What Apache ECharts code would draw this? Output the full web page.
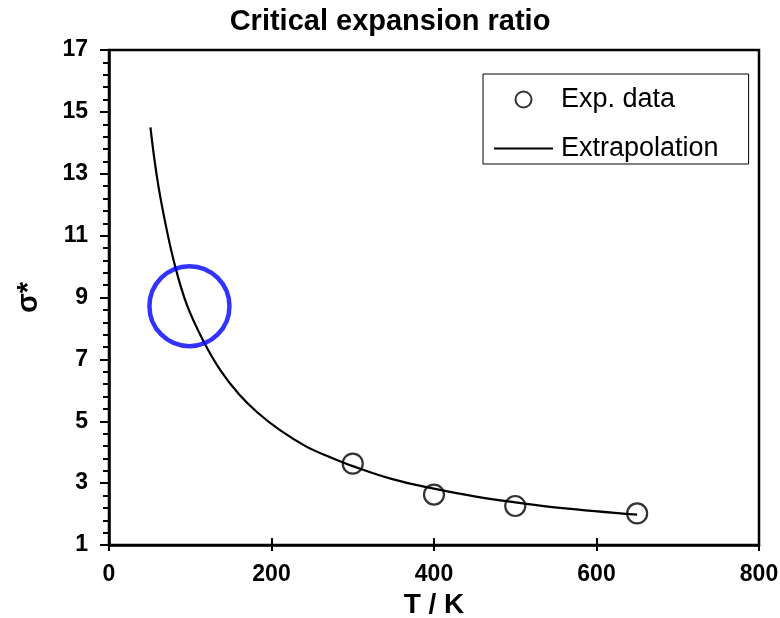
<!DOCTYPE html>
<html>
<head>
<meta charset="utf-8">
<script src="https://cdn.jsdelivr.net/npm/echarts@6/dist/echarts.min.js"></script>
<style>html,body{margin:0;padding:0;background:#fff}#c{width:780px;height:618px}</style>
</head>
<body>
<div id="c"></div>
<script>
var titleText = 'Critical expansion ratio';
var xName = 'T / K';
var yName = 'σ*';
var xTicks = [0, 200, 400, 600, 800];
var yTicks = [1, 3, 5, 7, 9, 11, 13, 15, 17];
var expT = [300, 400, 500, 650];
var expSigma = [3.63, 2.63, 2.26, 2.02];
var fitT = [51, 59, 69, 81, 96, 116, 137, 160, 182, 210, 243, 272, 300, 350, 400, 450, 500, 555, 650];
var fitSigma = [14.5, 12.9, 11.45, 10.05, 8.75, 7.6, 6.65, 5.87, 5.3, 4.72, 4.18, 3.84, 3.55, 3.12, 2.82, 2.57, 2.38, 2.2, 1.98];
var highlightT = [99];
var highlightSigma = [8.72];

function zip(a, b) { return a.map(function (v, i) { return [v, b[i]]; }); }

var FONT = '"Liberation Sans", Arial, sans-serif';
var chart = echarts.init(document.getElementById('c'), null, {renderer: 'canvas'});
chart.setOption({
  animation: false,
  backgroundColor: '#fff',
  title: {
    text: titleText, left: 'center', top: 2,
    textStyle: {fontFamily: FONT, fontWeight: 'bold', fontSize: 29, color: '#000'}
  },
  grid: {left: 109, right: 21, top: 50, bottom: 73, containLabel: false, outerBoundsMode: 'none',
    show: true, borderColor: '#000', borderWidth: 2.5, backgroundColor: 'transparent'},
  legend: {
    orient: 'vertical', left: 483, top: 74,
    data: [
      {name: 'Exp. data'},
      {name: 'Extrapolation', icon: 'path://M0,0 L60,0 L60,2 L0,2 Z'}
    ],
    itemWidth: 59, itemHeight: 16, itemGap: 22,
    padding: [12, 30, 2, 11],
    borderColor: '#000', borderWidth: 1,
    textStyle: {fontFamily: FONT, fontSize: 27, color: '#000', padding: [0, 0, 0, 3]},
    selectedMode: false
  },
  xAxis: [{
    type: 'value', min: xTicks[0], max: xTicks[xTicks.length - 1], interval: 200,
    name: xName, nameLocation: 'middle', nameGap: 41,
    nameTextStyle: {fontFamily: FONT, fontWeight: 'bold', fontSize: 28, color: '#000'},
    axisLine: {show: true, onZero: false, lineStyle: {color: '#000', width: 2.5}},
    axisTick: {show: true, inside: false, length: 6, lineStyle: {color: '#000', width: 2}},
    axisLabel: {margin: 18, fontFamily: FONT, fontWeight: 'bold', fontSize: 23, color: '#000'},
    splitLine: {show: false}
  }, {
    type: 'value', position: 'bottom', min: xTicks[0], max: xTicks[xTicks.length - 1], interval: 200,
    axisLine: {show: false},
    axisTick: {show: true, inside: true, length: 7, lineStyle: {color: '#000', width: 2}},
    axisLabel: {show: false},
    splitLine: {show: false}
  }],
  yAxis: {
    type: 'value', min: yTicks[0], max: yTicks[yTicks.length - 1], interval: 2,
    name: yName, nameLocation: 'middle', nameGap: 66, nameRotate: 90,
    nameTextStyle: {fontFamily: FONT, fontWeight: 'bold', fontSize: 29, color: '#000'},
    axisLine: {show: true, onZero: false, lineStyle: {color: '#000', width: 2.5}},
    axisTick: {show: true, inside: false, length: 9, lineStyle: {color: '#000', width: 2}},
    minorTick: {show: true, splitNumber: 5, length: 6, lineStyle: {color: '#000', width: 2}},
    axisLabel: {margin: 21, fontFamily: FONT, fontWeight: 'bold', fontSize: 23, color: '#000'},
    splitLine: {show: false}, minorSplitLine: {show: false}
  },
  series: [{
    name: 'Extrapolation', type: 'line', data: zip(fitT, fitSigma),
    smooth: 0.4, showSymbol: false, symbol: 'none',
    lineStyle: {color: '#000', width: 2.2}, itemStyle: {color: '#000'}, z: 2
  }, {
    name: 'Exp. data', type: 'scatter', data: zip(expT, expSigma),
    symbol: 'circle', symbolSize: 20,
    itemStyle: {color: 'rgba(0,0,0,0)', borderColor: '#000', borderWidth: 2.2}, z: 3
  }, {
    name: 'highlight', type: 'scatter', data: zip(highlightT, highlightSigma),
    symbol: 'circle', symbolSize: 80,
    itemStyle: {color: 'rgba(0,0,0,0)', borderColor: '#0000ff', borderWidth: 4.5}, z: 4
  }]
});
</script>
</body>
</html>
